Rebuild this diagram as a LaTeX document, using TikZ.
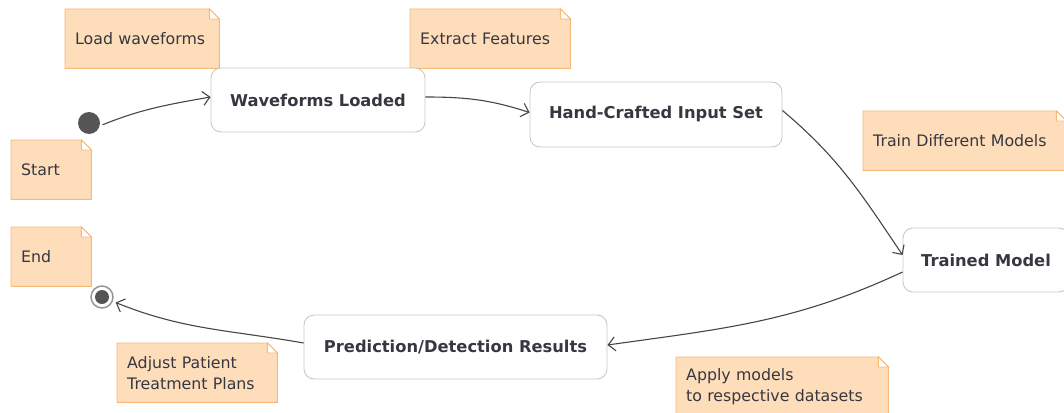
\documentclass[tikz,border=0pt]{standalone}
\usepackage{fontspec}
\setmainfont{DejaVu Sans}
\usepackage{xcolor}
\usepackage{tikz}
\usetikzlibrary{arrows.meta,positioning,shapes,calc}
\pgfdeclarelayer{bg}
\pgfsetlayers{bg,main}
\definecolor{memofill}{RGB}{254,221,186}
\definecolor{memoline}{RGB}{248,184,120}
\definecolor{boxline}{RGB}{200,200,200}
\definecolor{ink}{RGB}{55,55,65}
\definecolor{wire}{RGB}{70,70,70}
\definecolor{dot}{RGB}{85,85,85}
\definecolor{ring}{RGB}{150,150,150}
\tikzset{
  state/.style = {draw = boxline, line width = .9pt, rounded corners = 10pt, fill = white,
    text = ink, font = \fontsize{16.3}{19}\selectfont\bfseries},
  memo/.style = {anchor = north west, text width = #1, align = left, inner xsep = 10pt,
    inner ysep = 0pt, minimum height = 59pt, text = ink, font = \fontsize{15.8}{21}\selectfont},
  flow/.style = {->, draw = wire, line width = 1.1pt},
  >={Straight Barb[length=7pt,width=14pt]}
}

\begin{document}
\begin{tikzpicture}[x = 1pt, y = 1pt]
\useasboundingbox (0,0) rectangle (1064,-412);
% States
\node[state, minimum width = 214, minimum height = 64] (wload) at (318,-100) {Waveforms Loaded};
\node[state, minimum width = 252, minimum height = 65] (hand) at (656,-114.5) {Hand-Crafted Input Set};
\node[state, minimum width = 166, minimum height = 64] (trained) at (986,-260) {Trained Model};
\node[state, minimum width = 303, minimum height = 64] (pred) at (455.5,-347) {Prediction/Detection Results};
% Start and end
\node[circle, fill = dot, inner sep = 0pt, minimum size = 22] (start) at (89,-123) {};
\node[circle, draw = ring, line width = 1.5pt, fill = white, inner sep = 0pt, minimum size = 22,
  path picture = {\fill[dot] (path picture bounding box.center) circle (7);}] (stop) at (102,-297) {};
% Notes
\node[memo = 134] (nload) at (65,-9) {Load waveforms};
\node[memo = 140] (nextract) at (410,-9) {Extract Features};
\node[memo = 183] (ntrain) at (863,-111) {Train Different Models};
\node[memo = 192] (napply) at (676,-357) {Apply models\\to respective datasets};
\node[memo = 140] (nadjust) at (117,-343) {Adjust Patient\\Treatment Plans};
\node[memo = 60] (nstart) at (11,-140) {Start};
\node[memo = 60] (nend) at (11,-227) {End};
% Note paper with folded corner
\begin{pgfonlayer}{bg}
\foreach \n in {nload,nextract,ntrain,napply,nadjust,nstart,nend} {
  \filldraw[fill = memofill, draw = memoline, line width = .9pt]
    (\n.south west) -- (\n.north west) -- ([xshift = -10pt]\n.north east)
    -- ([yshift = -10pt]\n.north east) -- (\n.south east) -- cycle;
  \filldraw[fill = white, draw = memoline, line width = .9pt]
    ([xshift = -10pt]\n.north east) |- ([yshift = -10pt]\n.north east) -- cycle;
}
\end{pgfonlayer}
% Transitions
\draw[flow, shorten <= 3pt] (start.-15) to[out = 22, in = 190] ([yshift = 3]wload.west);
\draw[flow] ([yshift = 3]wload.east) to[out = 0, in = 162] ([yshift = 2]hand.west);
\draw[flow] ([yshift = 4]hand.east) to[out = -40, in = 124] ([yshift = 5]trained.west);
\draw[flow] ([yshift = -12]trained.west) to[out = 205, in = 8] ([yshift = 2]pred.east);
\draw[flow, shorten > = 3pt] ([yshift = 4]pred.west) to[out = 170, in = -22] (stop);
\end{tikzpicture}
\end{document}
